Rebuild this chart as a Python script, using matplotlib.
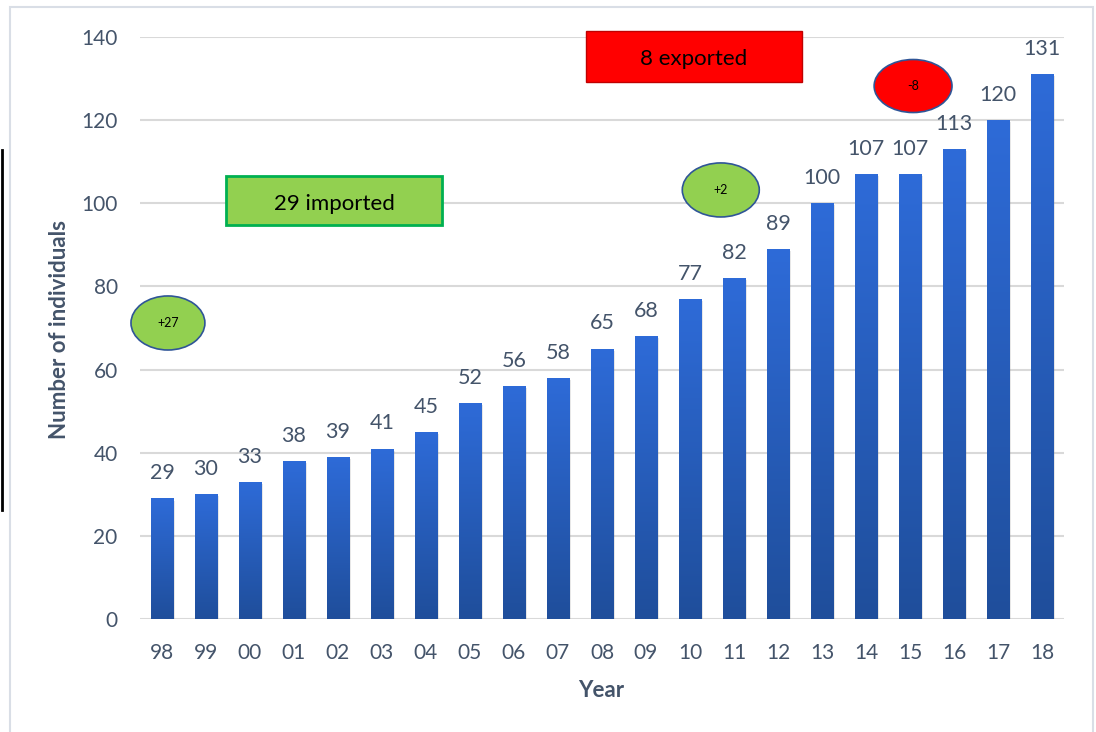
import numpy as np
import matplotlib
matplotlib.use('Agg')
import matplotlib.pyplot as plt
from matplotlib.patches import Rectangle, Ellipse
from matplotlib.colors import LinearSegmentedColormap
import matplotlib.patheffects as pe

# data
years = ['98', '99', '00', '01', '02', '03', '04', '05', '06', '07', '08',
         '09', '10', '11', '12', '13', '14', '15', '16', '17', '18']
counts = [29, 30, 33, 38, 39, 41, 45, 52, 56, 58, 65,
          68, 77, 82, 89, 100, 107, 107, 113, 120, 131]
y_ticks = [0, 20, 40, 60, 80, 100, 120, 140]

plt.rcParams['font.family'] = ['Lato', 'DejaVu Sans']
txt_col = '#44546A'

fig = plt.figure(figsize=(10.96, 7.32), dpi=100)
ax = fig.add_axes([0.1277, 0.1544, 0.8431, 0.7951])

x = np.arange(len(years))
bars = ax.bar(x, counts, width=0.52, color='#2A5FC4', zorder=3,
              path_effects=[pe.SimplePatchShadow(offset=(1, -1.5), shadow_rgbFace='#888888', alpha=0.2),
                            pe.Normal()])

# vertical gradient on every bar
cmap = LinearSegmentedColormap.from_list('blu', ['#1F4E9B', '#2E6BD8'])
grad = np.linspace(0, 1, 256).reshape(-1, 1)
for b in bars:
    x0, w, h = b.get_x(), b.get_width(), b.get_height()
    im = ax.imshow(grad, extent=[x0, x0 + w, 0, h], origin='lower', aspect='auto',
                   cmap=cmap, zorder=4)
    im.set_clip_path(b)
    ax.annotate(str(h), xy=(x0 + w / 2, h), xytext=(0, 11), textcoords='offset points',
                ha='center', va='bottom', fontsize=15.5, color=txt_col, zorder=5)

ax.set_xlim(-0.5, len(years) - 0.5)
ax.set_ylim(0, 140)
ax.set_xticks(x)
ax.set_xticklabels(years)
ax.set_yticks(y_ticks)
ax.tick_params(axis='both', length=0, labelsize=15, labelcolor=txt_col)
ax.tick_params(axis='y', pad=16)
ax.tick_params(axis='x', pad=17)
ax.grid(axis='y', color='#D9D9D9', linewidth=1.5, zorder=0)
ax.set_axisbelow(True)
for s in ax.spines.values():
    s.set_visible(False)

ax.set_ylabel('Number of individuals', fontsize=16, fontweight='bold', color=txt_col)
ax.yaxis.set_label_coords(-0.0758, 0.4966)
ax.set_xlabel('Year', fontsize=16, fontweight='bold', color=txt_col)
ax.xaxis.set_label_coords(0.499, -0.1048)

# annotation boxes
ax.add_patch(Rectangle((1.455, 94.8), 4.91, 11.8, facecolor='#92D050', edgecolor='#00B050',
                       linewidth=2, zorder=6, clip_on=False))
ax.text(3.91, 99.9, '29 imported', ha='center', va='center', fontsize=16, color='black', zorder=7)

ax.add_patch(Rectangle((9.636, 129.2), 4.91, 12.2, facecolor='#FF0000', edgecolor='#C00000',
                       linewidth=1, zorder=6, clip_on=False))
ax.text(12.09, 134.8, '8 exported', ha='center', va='center', fontsize=16, color='black', zorder=7)

ellipses = [(0.136, 71.2, 1.68, 13.0, '#92D050', '+27'),
            (12.70, 103.2, 1.75, 13.0, '#92D050', '+2'),
            (17.07, 128.2, 1.77, 12.75, '#FF0000', '-8')]
for cx, cy, ew, eh, fc, lab in ellipses:
    ax.add_patch(Ellipse((cx, cy), ew, eh, facecolor=fc, edgecolor='#2F5597',
                         linewidth=1.2, zorder=6, clip_on=False))
    ax.text(cx, cy, lab, ha='center', va='center', fontsize=9, color='black', zorder=7)

# outer frame and left black line
fig.add_artist(Rectangle((10 / 1096, -0.01), 1083 / 1096, 1 - 7 / 732 + 0.01,
                         transform=fig.transFigure, fill=False, edgecolor='#D9DEE6', linewidth=1.5))
fig.add_artist(plt.Line2D([1.5 / 1096, 1.5 / 1096], [1 - 510 / 732, 1 - 150 / 732],
                          transform=fig.transFigure, color='black', linewidth=2))

fig.savefig('out.png', dpi=100)
